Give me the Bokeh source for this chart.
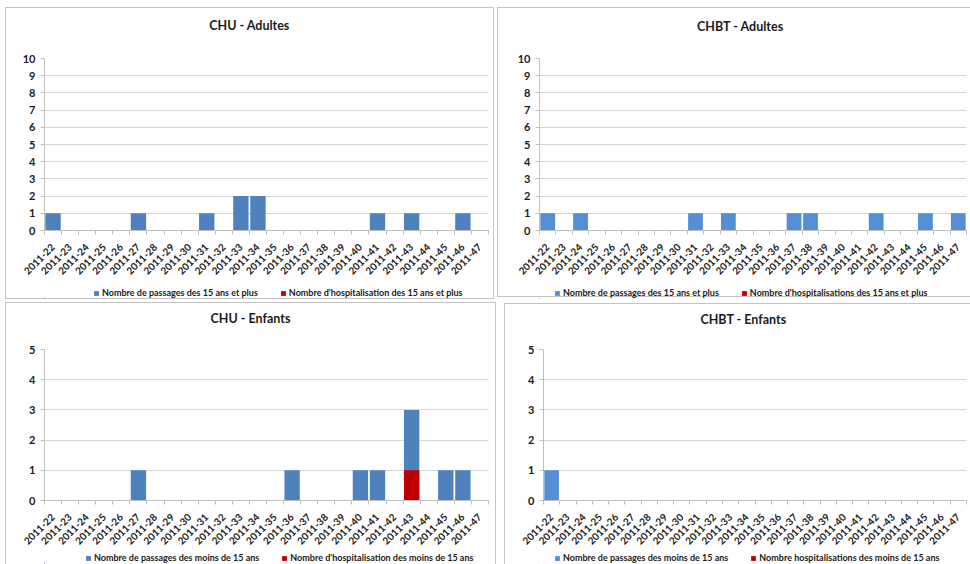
from math import pi
from bokeh.plotting import figure
from bokeh.layouts import row, column
from bokeh.models import (Range1d, FixedTicker, Legend, LegendItem,
                          ColumnDataSource)
from bokeh.core.properties import value
from bokeh.embed import file_html
from bokeh.resources import INLINE

# ---------------- data ----------------
weeks = ["2011-22", "2011-23", "2011-24", "2011-25", "2011-26", "2011-27",
         "2011-28", "2011-29", "2011-30", "2011-31", "2011-32", "2011-33",
         "2011-34", "2011-35", "2011-36", "2011-37", "2011-38", "2011-39",
         "2011-40", "2011-41", "2011-42", "2011-43", "2011-44", "2011-45",
         "2011-46", "2011-47"]

chu_adult_passages = [1, 0, 0, 0, 0, 1, 0, 0, 0, 1, 0, 2, 2, 0, 0, 0, 0, 0, 0, 1, 0, 1, 0, 0, 1, 0]
chu_adult_hosp     = [0, 0, 0, 0, 0, 0, 0, 0, 0, 0, 0, 0, 0, 0, 0, 0, 0, 0, 0, 0, 0, 0, 0, 0, 0, 0]

chbt_adult_passages = [1, 0, 1, 0, 0, 0, 0, 0, 0, 1, 0, 1, 0, 0, 0, 1, 1, 0, 0, 0, 1, 0, 0, 1, 0, 1]
chbt_adult_hosp     = [0, 0, 0, 0, 0, 0, 0, 0, 0, 0, 0, 0, 0, 0, 0, 0, 0, 0, 0, 0, 0, 0, 0, 0, 0, 0]

chu_child_passages = [0, 0, 0, 0, 0, 1, 0, 0, 0, 0, 0, 0, 0, 0, 1, 0, 0, 0, 1, 1, 0, 3, 0, 1, 1, 0]
chu_child_hosp     = [0, 0, 0, 0, 0, 0, 0, 0, 0, 0, 0, 0, 0, 0, 0, 0, 0, 0, 0, 0, 0, 1, 0, 0, 0, 0]

chbt_child_passages = [1, 0, 0, 0, 0, 0, 0, 0, 0, 0, 0, 0, 0, 0, 0, 0, 0, 0, 0, 0, 0, 0, 0, 0, 0, 0]
chbt_child_hosp     = [0, 0, 0, 0, 0, 0, 0, 0, 0, 0, 0, 0, 0, 0, 0, 0, 0, 0, 0, 0, 0, 0, 0, 0, 0, 0]

y_ticks_adult = [0, 1, 2, 3, 4, 5, 6, 7, 8, 9, 10]
y_ticks_child = [0, 1, 2, 3, 4, 5]

titles = ["CHU - Adultes", "CHBT - Adultes", "CHU - Enfants", "CHBT - Enfants"]
legend_labels = [
    ("Nombre de passages des 15 ans et plus", "Nombre d'hospitalisation des 15 ans et plus"),
    ("Nombre de passages des 15 ans et plus", "Nombre d'hospitalisations des 15 ans et plus"),
    ("Nombre de passages des moins de 15 ans", "Nombre d'hospitalisation des moins de 15 ans"),
    ("Nombre de passages des moins de 15 ans", "Nombre hospitalisations des moins de 15 ans"),
]

# ---------------- styling ----------------
FONT = "Lato"
GRAY = "#bfbfbf"
GRID = "#d4d4d4"
TXT = "#1a1a1a"
RED = "#c00000"
BC = "#c4c4c4"


def frame_lines(*segs):
    # panel border drawn as CSS background lines: (x, y, w, h) in px
    return ", ".join(f"linear-gradient({BC},{BC}) {x}px {y}px / {w}px {h}px no-repeat"
                     for x, y, w, h in segs)


def blank_fig(width, height, borders):
    # the frame of these helper figures is aligned with the chart frame below/above,
    # so the x range is set to match canvas pixels
    f = figure(width=width, height=height, output_backend="svg",
               toolbar_location=None, tools="", min_border=0,
               x_axis_type=None, y_axis_type=None,
               x_range=Range1d(borders[0], width - borders[1]),
               y_range=Range1d(0, height))
    f.grid.visible = False
    f.outline_line_color = None
    f.background_fill_color = None
    f.border_fill_color = None
    return f


def title_fig(text, width, height, borders, cx, cy):
    f = blank_fig(width, height, borders)
    f.text(x=[cx], y=[height - cy], text=[text], text_align="center",
           text_baseline="middle", text_font=value(FONT), text_font_style="bold",
           text_font_size="12.5px", text_color=TXT)
    return f


def legend_fig(src, labels, blue, width, height, borders, lx):
    f = blank_fig(width, height, borders)
    # legend proxies share the chart's data; they fall outside this strip's frame
    r1 = f.vbar(x="x", top="passages", source=src, width=0.9, fill_color=blue, line_color=None)
    r2 = f.vbar(x="x", top="hosp", source=src, width=0.9, fill_color=RED, line_color=None)
    leg = Legend(items=[LegendItem(label=labels[0], renderers=[r1]),
                        LegendItem(label=labels[1], renderers=[r2])],
                 location=(lx - borders[0], 1), orientation="horizontal",
                 glyph_width=6, glyph_height=6, label_height=9,
                 label_standoff=3, spacing=22, padding=0, margin=0,
                 border_line_color=None, background_fill_alpha=0,
                 label_text_font=FONT, label_text_font_style="bold",
                 label_text_font_size="9px", label_text_color=TXT)
    f.add_layout(leg)
    return f


def chart_fig(src, blue, yticks, width, height, borders):
    n = len(weeks)
    idx = list(range(n))
    p = figure(width=width, height=height, output_backend="svg",
               toolbar_location=None, tools="",
               x_range=Range1d(-0.5, n - 0.5),
               y_range=Range1d(0, yticks[-1]),
               min_border_left=borders[0], min_border_right=borders[1],
               min_border_top=borders[2], min_border_bottom=borders[3])
    p.border_fill_color = None
    p.background_fill_color = "white"
    p.outline_line_color = None

    p.vbar(x="x", top="passages", width=0.9, source=src, fill_color=blue, line_color=None)
    p.vbar(x="x", top="hosp", width=0.9, source=src, fill_color=RED, line_color=None)

    # x axis: labels at category centres, tick marks between categories
    xa = p.xaxis[0]
    xa.ticker = FixedTicker(ticks=idx, minor_ticks=[i - 0.5 for i in range(n + 1)])
    xa.major_label_overrides = {i: w for i, w in zip(idx, weeks)}
    xa.major_label_orientation = pi / 4
    xa.major_tick_line_color = None
    xa.major_tick_out = 0
    xa.major_tick_in = 0
    xa.minor_tick_out = 4
    xa.minor_tick_in = 0
    xa.minor_tick_line_color = GRAY
    xa.axis_line_color = GRAY
    xa.major_label_standoff = 11
    xa.major_label_text_font = FONT
    xa.major_label_text_font_style = "bold"
    xa.major_label_text_font_size = "10px"
    xa.major_label_text_color = TXT

    ya = p.yaxis[0]
    ya.ticker = FixedTicker(ticks=yticks)
    ya.minor_tick_line_color = None
    ya.major_tick_out = 4
    ya.major_tick_in = 0
    ya.major_tick_line_color = GRAY
    ya.axis_line_color = GRAY
    ya.major_label_standoff = 5
    ya.major_label_text_font = FONT
    ya.major_label_text_font_style = "bold"
    ya.major_label_text_font_size = "11px"
    ya.major_label_text_color = TXT

    p.xgrid.grid_line_color = None
    p.ygrid.grid_line_color = GRID
    p.ygrid.ticker = FixedTicker(ticks=yticks)
    return p


def panel(k, passages, hosp, blue, yticks, width, hs, borders, title_c, lx, bg):
    src = ColumnDataSource(dict(x=list(range(len(weeks))), week=weeks,
                                passages=passages, hosp=hosp))
    t = title_fig(titles[k], width, hs[0], borders, title_c[0], title_c[1])
    c = chart_fig(src, blue, yticks, width, hs[1], borders)
    lg = legend_fig(src, legend_labels[k], blue, width, hs[2], borders, lx)
    return column(t, c, lg, styles={"background": bg})


P1 = panel(0, chu_adult_passages, chu_adult_hosp, "#4f81bd", y_ticks_adult,
           494, (45, 241, 13), (44, 6, 13, 56), (249, 25), 93,
           frame_lines((5, 7, 1, 292), (5, 7, 489, 1), (493, 7, 1, 292), (5, 298, 489, 1)))
P2 = panel(1, chbt_adult_passages, chbt_adult_hosp, "#558ed5", y_ticks_adult,
           473, (45, 241, 13), (42, 4, 13, 56), (243, 26), 57,
           frame_lines((0, 7, 1, 290), (0, 7, 473, 1), (0, 296, 473, 1)))
P3 = panel(2, chu_child_passages, chu_child_hosp, "#4f81bd", y_ticks_child,
           496, (38, 210, 14), (44, 8, 9, 50), (250, 16), 85,
           frame_lines((5, 0, 1, 262), (5, 0, 491, 1), (495, 0, 1, 262)))
P4 = panel(3, chbt_child_passages, chbt_child_hosp, "#558ed5", y_ticks_child,
           466, (38, 210, 14), (39, 4, 9, 50), (239, 17), 50,
           frame_lines((0, 1, 1, 261), (0, 1, 466, 1)))

layout = column(row(P1, P2, spacing=3), row(P3, P4, spacing=8), spacing=3)

open("out.html", "w").write(file_html(layout, INLINE))
